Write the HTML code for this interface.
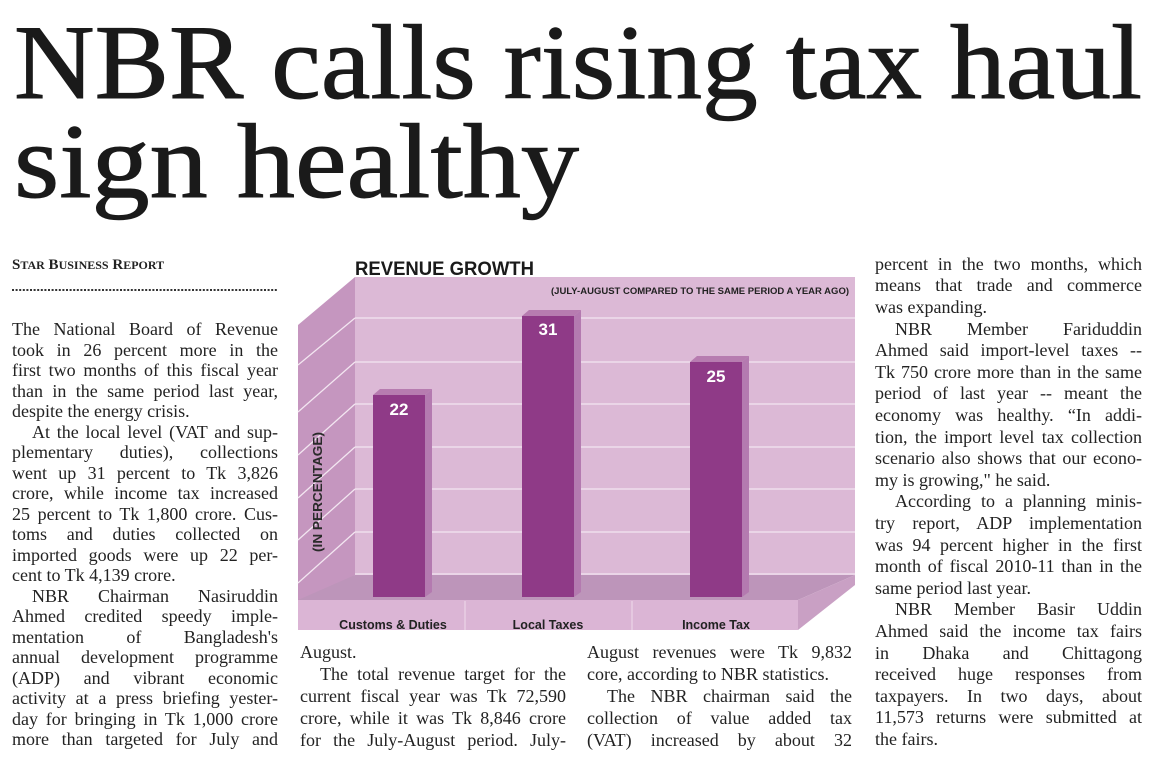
<!DOCTYPE html>
<html><head><meta charset="utf-8"><style>
html,body{margin:0;padding:0;background:#fff;width:1162px;height:757px;overflow:hidden;position:relative}
.l{position:absolute;height:22px;line-height:22px;font-family:"Liberation Serif",serif;font-size:18px;color:#222;white-space:nowrap;text-align:justify;text-align-last:justify}
.e{text-align-last:left}
.c1{left:12px;width:266px}.c2{left:300px;width:266px}.c3{left:587px;width:265px}.c4{left:875px;width:267px}
.i{text-indent:20px}
</style></head><body>
<svg width="1162" height="757" style="position:absolute;left:0;top:0" xmlns="http://www.w3.org/2000/svg">
<text x="14" y="98" font-family="Liberation Serif,serif" font-size="106" fill="#1a1a1a" stroke="#1a1a1a" stroke-width="1" textLength="1128" lengthAdjust="spacingAndGlyphs">NBR calls rising tax haul</text>
<text x="14" y="197" font-family="Liberation Serif,serif" font-size="106" fill="#1a1a1a" stroke="#1a1a1a" stroke-width="1" textLength="565" lengthAdjust="spacingAndGlyphs">sign healthy</text>
<text x="12" y="269" font-family="Liberation Serif,serif" font-size="15" font-weight="bold" fill="#222">S<tspan font-size="12">TAR</tspan> B<tspan font-size="12">USINESS</tspan> R<tspan font-size="12">EPORT</tspan></text>
<line x1="12" y1="290" x2="277" y2="290" stroke="#333" stroke-width="2" stroke-dasharray="2,1.6"/>
<polygon points="355,277 855,277 855,575 355,575" fill="#dcb9d6"/>
<polygon points="298,325 355,277 355,575 298,615" fill="#c596bf"/>
<polygon points="298,600 355,575 855,575 798,600" fill="#bd95ba"/>
<polygon points="798,600 855,575 855,585 798,630" fill="#c9a0c4"/>
<rect x="298" y="600" width="500" height="30" fill="#dbb5d5"/>
<line x1="465" y1="601" x2="465" y2="630" stroke="#efdcec" stroke-width="1"/>
<line x1="632" y1="601" x2="632" y2="630" stroke="#efdcec" stroke-width="1"/>
<g stroke="#f3e6f1" stroke-width="1.3">
<line x1="355" y1="318" x2="855" y2="318"/><line x1="298" y1="365" x2="355" y2="318"/>
<line x1="355" y1="362" x2="855" y2="362"/><line x1="298" y1="412" x2="355" y2="362"/>
<line x1="355" y1="404" x2="855" y2="404"/><line x1="298" y1="455" x2="355" y2="404"/>
<line x1="355" y1="447" x2="855" y2="447"/><line x1="298" y1="498" x2="355" y2="447"/>
<line x1="355" y1="489" x2="855" y2="489"/><line x1="298" y1="540" x2="355" y2="489"/>
<line x1="355" y1="532" x2="855" y2="532"/><line x1="298" y1="583" x2="355" y2="532"/>
<line x1="355" y1="574" x2="855" y2="574"/>
</g>
<g>
<polygon points="373,395 380,389 432,389 425,395" fill="#b77cb0"/><polygon points="425,395 432,389 432,592 425,597" fill="#b47ab0"/><rect x="373" y="395" width="52" height="202" fill="#8f3a87"/>
<polygon points="522,316 529,310 581,310 574,316" fill="#b77cb0"/><polygon points="574,316 581,310 581,592 574,597" fill="#b47ab0"/><rect x="522" y="316" width="52" height="281" fill="#8f3a87"/>
<polygon points="690,362 697,356 749,356 742,362" fill="#b77cb0"/><polygon points="742,362 749,356 749,592 742,597" fill="#b47ab0"/><rect x="690" y="362" width="52" height="235" fill="#8f3a87"/>
</g>
<g font-family="Liberation Sans,sans-serif" font-weight="bold" fill="#fff" font-size="17" text-anchor="middle">
<text x="399" y="415">22</text><text x="548" y="335">31</text><text x="716" y="382">25</text>
</g>
<text x="355" y="275" font-family="Liberation Sans,sans-serif" font-weight="bold" font-size="19" fill="#1a1a1a" textLength="179" lengthAdjust="spacingAndGlyphs">REVENUE GROWTH</text>
<text x="849" y="294" text-anchor="end" font-family="Liberation Sans,sans-serif" font-weight="bold" font-size="9.5" fill="#222" textLength="298" lengthAdjust="spacingAndGlyphs">(JULY-AUGUST COMPARED TO THE SAME PERIOD A YEAR AGO)</text>
<text transform="translate(322,492) rotate(-90)" text-anchor="middle" font-family="Liberation Sans,sans-serif" font-weight="bold" font-size="13" fill="#2a2a2a" textLength="120" lengthAdjust="spacingAndGlyphs">(IN PERCENTAGE)</text>
<g font-family="Liberation Sans,sans-serif" font-weight="bold" font-size="12.5" fill="#222" text-anchor="middle">
<text x="393" y="629">Customs &amp; Duties</text><text x="548" y="629">Local Taxes</text><text x="716" y="629">Income Tax</text>
</g>
</svg>

<div class="l c1" style="top:318px">The National Board of Revenue</div>
<div class="l c1" style="top:339px">took in 26 percent more in the</div>
<div class="l c1" style="top:359px">first two months of this fiscal year</div>
<div class="l c1" style="top:380px">than in the same period last year,</div>
<div class="l c1 e" style="top:400px">despite the energy crisis.</div>
<div class="l c1 i" style="top:421px">At the local level (VAT and sup-</div>
<div class="l c1" style="top:441px">plementary duties), collections</div>
<div class="l c1" style="top:462px">went up 31 percent to Tk 3,826</div>
<div class="l c1" style="top:482px">crore, while income tax increased</div>
<div class="l c1" style="top:503px">25 percent to Tk 1,800 crore. Cus-</div>
<div class="l c1" style="top:523px">toms and duties collected on</div>
<div class="l c1" style="top:544px">imported goods were up 22 per-</div>
<div class="l c1 e" style="top:564px">cent to Tk 4,139 crore.</div>
<div class="l c1 i" style="top:585px">NBR Chairman Nasiruddin</div>
<div class="l c1" style="top:605px">Ahmed credited speedy imple-</div>
<div class="l c1" style="top:626px">mentation of Bangladesh's</div>
<div class="l c1" style="top:646px">annual development programme</div>
<div class="l c1" style="top:667px">(ADP) and vibrant economic</div>
<div class="l c1" style="top:687px">activity at a press briefing yester-</div>
<div class="l c1" style="top:708px">day for bringing in Tk 1,000 crore</div>
<div class="l c1" style="top:728px">more than targeted for July and</div>

<div class="l c2 e" style="top:641px">August.</div>
<div class="l c2 i" style="top:663px">The total revenue target for the</div>
<div class="l c2" style="top:685px">current fiscal year was Tk 72,590</div>
<div class="l c2" style="top:707px">crore, while it was Tk 8,846 crore</div>
<div class="l c2" style="top:729px">for the July-August period. July-</div>

<div class="l c3" style="top:641px">August revenues were Tk 9,832</div>
<div class="l c3 e" style="top:663px">core, according to NBR statistics.</div>
<div class="l c3 i" style="top:685px">The NBR chairman said the</div>
<div class="l c3" style="top:707px">collection of value added tax</div>
<div class="l c3" style="top:729px">(VAT) increased by about 32</div>

<div class="l c4" style="top:253px">percent in the two months, which</div>
<div class="l c4" style="top:274px">means that trade and commerce</div>
<div class="l c4 e" style="top:296px">was expanding.</div>
<div class="l c4 i" style="top:318px">NBR Member Fariduddin</div>
<div class="l c4" style="top:339px">Ahmed said import-level taxes --</div>
<div class="l c4" style="top:361px">Tk 750 crore more than in the same</div>
<div class="l c4" style="top:382px">period of last year -- meant the</div>
<div class="l c4" style="top:404px">economy was healthy. “In addi-</div>
<div class="l c4" style="top:426px">tion, the import level tax collection</div>
<div class="l c4" style="top:447px">scenario also shows that our econo-</div>
<div class="l c4 e" style="top:469px">my is growing," he said.</div>
<div class="l c4 i" style="top:490px">According to a planning minis-</div>
<div class="l c4" style="top:512px">try report, ADP implementation</div>
<div class="l c4" style="top:534px">was 94 percent higher in the first</div>
<div class="l c4" style="top:555px">month of fiscal 2010-11 than in the</div>
<div class="l c4 e" style="top:577px">same period last year.</div>
<div class="l c4 i" style="top:598px">NBR Member Basir Uddin</div>
<div class="l c4" style="top:620px">Ahmed said the income tax fairs</div>
<div class="l c4" style="top:642px">in Dhaka and Chittagong</div>
<div class="l c4" style="top:663px">received huge responses from</div>
<div class="l c4" style="top:685px">taxpayers. In two days, about</div>
<div class="l c4" style="top:706px">11,573 returns were submitted at</div>
<div class="l c4 e" style="top:728px">the fairs.</div>
</body></html>
